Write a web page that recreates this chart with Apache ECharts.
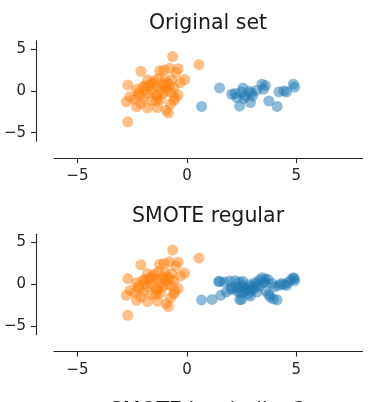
<!DOCTYPE html>
<html>
<head>
<meta charset="utf-8">
<script src="https://cdn.jsdelivr.net/npm/echarts@6/dist/echarts.min.js"></script>
<style>
html,body{margin:0;padding:0;background:#fff;}
#chart{width:375px;height:402px;}
</style>
</head>
<body>
<div id="chart"></div>
<script>
// ---- data ----
var titles = ['Original set', 'SMOTE regular', 'SMOTE borderline2'];
var xTicks = [-5, 0, 5];
var yTicks = [-5, 0, 5];
var xRange = [-6.07, 8.02];
var yRange = [-6, 6];

// minority class (class #0, blue) - original samples
var minorityOriginal = [
  [0.67,-1.85],[1.49,0.35],[2.05,-0.4],[2.2,-0.3],[2.28,-0.8],[2.41,-1.83],
  [2.56,0.35],[2.5,-0.12],[2.67,-0.63],[2.6,-0.9],[2.9,-1.4],[2.94,-0.24],
  [2.85,-0.05],[3.0,-0.6],[3.2,0.08],[3.43,0.8],[3.58,0.65],[3.5,0.2],
  [3.74,-1.2],[4.12,-1.85],[4.2,-0.12],[4.43,0.0],[4.55,-0.1],[4.86,0.8],[4.92,0.45]
];
// synthetic minority samples added by SMOTE regular
var minoritySynthetic = [
  [1.15,-1.8],[1.55,-1.3],[1.8,-0.9],[1.45,0.35],[1.7,0.3],[1.95,0.4],[2.2,0.45],
  [2.4,0.3],[2.35,-0.5],[2.45,-1.0],[2.6,-0.3],[2.75,-0.55],[2.8,-1.15],[3.1,-0.4],
  [3.3,-0.2],[3.1,0.2],[3.3,0.5],[3.55,0.3],[3.7,0.6],[3.9,0.1],[4.0,-0.3],
  [3.6,-0.8],[3.8,-1.5],[3.95,-1.75],[4.3,0.1],[4.6,0.2],[4.75,0.55],[4.9,0.7],
  [3.2,-0.9],[2.5,-1.8],[2.9,-0.8],[2.0,-0.6]
];
// majority class (class #1, orange)
var majority = [
  [-0.65,4.1],[0.55,3.15],[-2.1,2.35],[-1.25,2.4],[-1.05,2.5],[-0.8,2.7],[-0.4,2.65],
  [-0.5,2.2],[-0.1,1.35],[-0.3,1.0],[-2.7,0.7],[-1.9,0.6],[-1.6,0.9],[-1.8,1.3],
  [-1.5,1.2],[-1.3,1.5],[-1.0,1.4],[-0.7,1.3],[-0.9,0.9],[-2.0,0.5],[-1.7,0.7],
  [-1.4,0.6],[-1.1,0.8],[-0.8,0.7],[-0.6,0.4],[-2.3,0.2],[-1.9,0.1],[-1.6,0.0],
  [-1.2,0.2],[-0.9,0.0],[-2.2,-0.2],[-2.2,-0.5],[-1.8,-0.3],[-1.4,-0.5],[-1.1,-0.3],
  [-0.7,-0.2],[-2.6,-0.7],[-2.4,-1.0],[-2.0,-0.9],[-1.35,-0.7],[-1.2,-1.0],[-0.55,-0.85],
  [-0.4,-0.5],[-2.77,-1.3],[-2.3,-1.9],[-2.1,-1.5],[-1.8,-2.05],[-1.4,-1.2],[-1.35,-2.0],
  [-0.95,-2.3],[-0.85,-2.65],[-0.6,-1.15],[-0.75,-1.6],[-1.6,-1.2],[-2.7,-3.7],[-1.0,0.4]
];

// ---- chart ----
var FONT = 'DejaVu Sans';
var TXT = '#262626';
var fmt = function (v) { return v < 0 ? '\u2212' + Math.abs(v) : String(v); };

var grids = [
  {left: 54, top: 40.7, width: 308.5, height: 100.4},
  {left: 54, top: 234.2, width: 308.5, height: 100.4}
];

function xAx(i) {
  return {
    type: 'value', gridIndex: i, min: xRange[0], max: xRange[1], offset: 17,
    splitLine: {show: false},
    axisLine: {show: true, onZero: false, lineStyle: {color: TXT, width: 1.1}},
    axisTick: {show: true, customValues: xTicks, length: 5, lineStyle: {color: TXT, width: 1.1}},
    axisLabel: {customValues: xTicks, formatter: fmt, fontSize: 15, fontFamily: FONT, color: TXT, margin: 11}
  };
}
function yAx(i) {
  return {
    type: 'value', gridIndex: i, min: yRange[0], max: yRange[1], offset: 18,
    splitLine: {show: false},
    axisLine: {show: true, onZero: false, lineStyle: {color: TXT, width: 1.1}},
    axisTick: {show: true, customValues: yTicks, length: 5, lineStyle: {color: TXT, width: 1.1}},
    axisLabel: {customValues: yTicks, formatter: fmt, fontSize: 15, fontFamily: FONT, color: TXT, margin: 10}
  };
}
function sc(i, data, color) {
  return {
    type: 'scatter', xAxisIndex: i, yAxisIndex: i, data: data, symbolSize: 11,
    itemStyle: {color: color, opacity: 0.5}, silent: true
  };
}
var titleY = [23.5, 217, 412];
var graphics = titles.map(function (t, i) {
  return {
    type: 'text', x: 208, y: titleY[i],
    style: {text: t, font: '20.5px "DejaVu Sans"', fill: '#1a1a1a', align: 'center', verticalAlign: 'middle'}
  };
});

var chart = echarts.init(document.getElementById('chart'), null, {renderer: 'canvas'});
chart.setOption({
  animation: false,
  backgroundColor: '#fff',
  grid: grids,
  xAxis: [xAx(0), xAx(1)],
  yAxis: [yAx(0), yAx(1)],
  graphic: graphics,
  series: [
    sc(0, minorityOriginal, '#1f77b4'),
    sc(0, majority, '#ff7f0e'),
    sc(1, minorityOriginal.concat(minoritySynthetic), '#1f77b4'),
    sc(1, majority, '#ff7f0e')
  ]
});
</script>
</body>
</html>
